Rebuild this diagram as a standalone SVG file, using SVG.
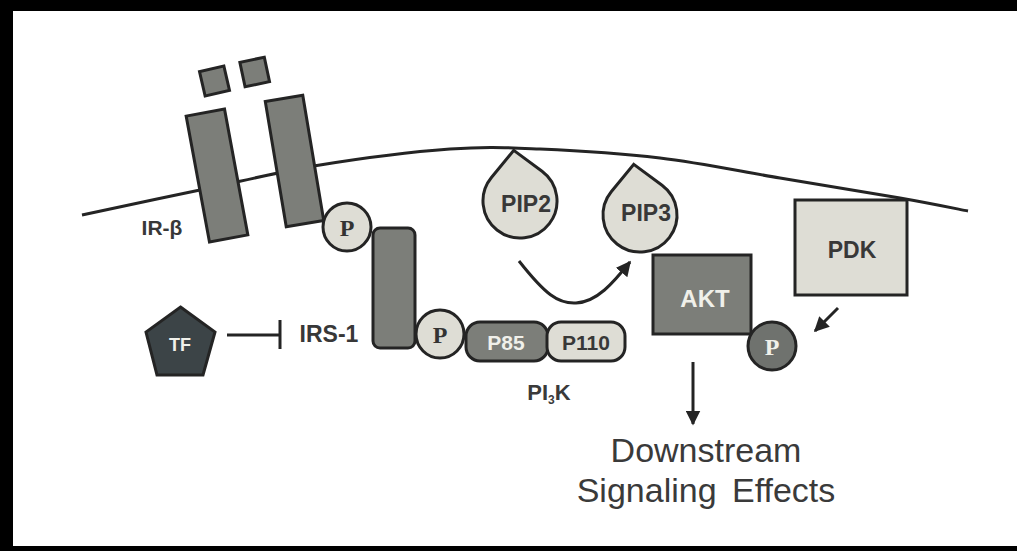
<svg xmlns="http://www.w3.org/2000/svg" width="1017" height="551" viewBox="0 0 1017 551">
<style>
.dk{fill:#7c7e79;stroke:#242424;stroke-width:3}
.lt{fill:#deddd5;stroke:#242424;stroke-width:3}
.ln{fill:none;stroke:#242424;stroke-width:3}
.t{font-family:"Liberation Sans",Arial,sans-serif;font-weight:bold;fill:#383838;text-anchor:middle}
.tw{font-family:"Liberation Sans",Arial,sans-serif;font-weight:bold;fill:#f0f0ea;text-anchor:middle}
.p{font-family:"Liberation Serif","Times New Roman",serif;font-weight:bold;font-size:24px;text-anchor:middle}
.lab{font-family:"Liberation Sans",Arial,sans-serif;fill:#3a3a3a;text-anchor:middle}
</style>
<defs>
<marker id="ah" viewBox="0 0 10 10" refX="9" refY="5" markerWidth="5" markerHeight="5" orient="auto" markerUnits="strokeWidth"><path d="M0,0 L10,5 L0,10 Z" fill="#242424"/></marker>
<path id="drop" d="M0,-51 L25.5,-26.8 A37,37 0 1,1 -25.5,-26.8 Z"/>
</defs>
<rect x="0" y="0" width="1017" height="551" fill="#fff"/>
<g id="frame" fill="#000">
<rect x="0" y="0" width="1017" height="11"/>
<rect x="0" y="0" width="13" height="551"/>
<rect x="0" y="546" width="1017" height="5"/>
</g>
<g id="membrane">
<path class="ln" d="M82,215 C101.7,210.8 160.3,198.3 200,190 C239.7,181.7 278.3,171.8 320,165 C361.7,158.2 413.3,151.7 450,149 C486.7,146.3 505,147.5 540,149 C575,150.5 620,153.2 660,158 C700,162.8 740,171.3 780,178 C820,184.7 868.7,192.5 900,198 C931.3,203.5 956.7,208.8 968,211"/>
</g>
<g id="receptor">
<rect class="dk" x="-12.5" y="-12.5" width="25" height="25" transform="translate(214.5,81) rotate(-13)"/>
<rect class="dk" x="-12.5" y="-12.5" width="25" height="25" transform="translate(254.7,72) rotate(-12)"/>
<rect class="dk" x="-19.5" y="-64" width="39" height="128" transform="translate(217,175.5) rotate(-10.5)"/>
<rect class="dk" x="-19" y="-63.5" width="38" height="127" transform="translate(294.5,161) rotate(-9.5)"/>
<text class="t" x="162" y="235" font-size="21">IR-β</text>
</g>
<g id="irs1">
<rect class="dk" x="373" y="228" width="42" height="120" rx="7"/>
<text class="t" x="329" y="342" font-size="23">IRS-1</text>
</g>
<g id="p1">
<circle class="lt" cx="347" cy="227" r="24"/>
<text class="p" x="347" y="236" fill="#333">P</text>
</g>
<g id="pi3k">
<rect class="dk" x="466" y="322" width="82" height="39" rx="14"/>
<rect class="lt" x="547" y="322" width="78" height="39" rx="14"/>
<text class="tw" x="506" y="350" font-size="21" fill="#e6e6de">P85</text>
<text class="t" x="586" y="350" font-size="21">P110</text>
<text class="lab" x="549" y="400" font-size="22" font-weight="bold">PI<tspan font-size="12" dy="4">3</tspan><tspan dy="-4">K</tspan></text>
</g>
<g id="p2">
<circle class="lt" cx="440" cy="334" r="24"/>
<text class="p" x="440" y="343" fill="#333">P</text>
</g>
<g id="tf">
<polygon points="180.5,307 215,332 203,375 157,375 146,332" fill="#3c4447" stroke="#242424" stroke-width="3"/>
<text class="tw" x="180" y="351" font-size="18">TF</text>
</g>
<g id="pip2">
<use href="#drop" class="lt" transform="translate(520,201) rotate(-7)"/>
<text class="t" x="526" y="212" font-size="23">PIP2</text>
</g>
<g id="pip3">
<use href="#drop" class="lt" transform="translate(640,215) rotate(-7)"/>
<text class="t" x="646" y="221" font-size="23">PIP3</text>
</g>
<g id="akt">
<rect class="dk" x="653" y="255" width="98" height="79"/>
<text class="tw" x="705" y="307" font-size="24">AKT</text>
</g>
<g id="p3">
<circle cx="772" cy="346" r="24" fill="#6f726e" stroke="#242424" stroke-width="3"/>
<text class="p" x="772" y="355" fill="#f0f0ea">P</text>
</g>
<g id="pdk">
<rect class="lt" x="795" y="200" width="112" height="95"/>
<text class="t" x="852" y="258" font-size="23">PDK</text>
</g>
<g id="downstream">
<text class="lab" x="706" y="462" font-size="34">Downstream</text>
<text class="lab" x="706" y="502" font-size="34" word-spacing="6">Signaling Effects</text>
</g>
<g id="connectors">
<path class="ln" d="M227,335 L279,335 M280,320 L280,349"/>
<path class="ln" d="M519,261 C545,294 558,304 576,303 C597,302 613,283 630,262" marker-end="url(#ah)"/>
<path class="ln" d="M838,308 L815,331" marker-end="url(#ah)"/>
<path class="ln" d="M693,362 L693,424" marker-end="url(#ah)"/>
</g>
</svg>
